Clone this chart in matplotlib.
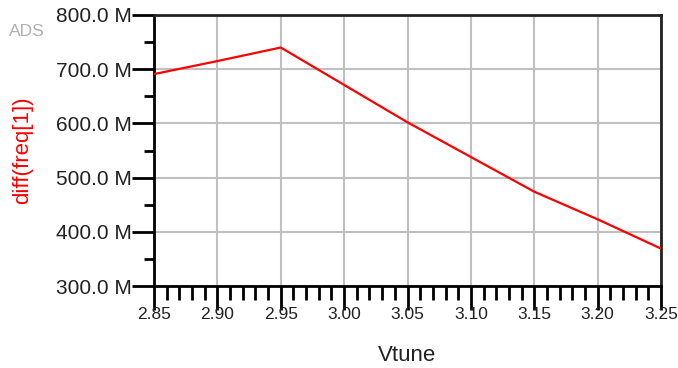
"""ADS style plot: diff(freq[1]) vs Vtune"""
import matplotlib
matplotlib.use("Agg")
import matplotlib.pyplot as plt
from matplotlib.ticker import MultipleLocator, FuncFormatter

# data
vtune = [2.85, 2.90, 2.95, 3.00, 3.05, 3.10, 3.15, 3.20, 3.25]
diff_freq = [691, 715, 740, 671, 602, 538, 474, 423, 369]  # MHz

plt.rcParams['font.family'] = ['Liberation Sans', 'DejaVu Sans']

fig = plt.figure(figsize=(6.78, 3.68), dpi=100)
ax = fig.add_axes([154 / 678, 1 - 286 / 368, (661 - 154) / 678, (286 - 15) / 368])

ax.plot(vtune, [v * 1e6 for v in diff_freq], color='#ff0000', lw=1.6, zorder=3)

ax.set_xlim(2.85, 3.25)
ax.set_ylim(300e6, 800e6)
ax.xaxis.set_major_locator(MultipleLocator(0.05))
ax.xaxis.set_minor_locator(MultipleLocator(0.01))
ax.yaxis.set_major_locator(MultipleLocator(100e6))
ax.yaxis.set_minor_locator(MultipleLocator(50e6))
ax.xaxis.set_major_formatter(FuncFormatter(lambda v, p: f"{v:.2f}"))
ax.yaxis.set_major_formatter(FuncFormatter(lambda v, p: f"{v / 1e6:.1f} M"))

ax.grid(which='major', color='#c0c0c0', lw=1.5, zorder=1)
ax.tick_params(axis='x', which='major', direction='out', length=17, width=2, labelsize=12.5, pad=-2, colors='black')
ax.tick_params(axis='x', which='minor', direction='out', length=10, width=2)
ax.tick_params(axis='y', which='major', direction='out', length=16, width=2, labelsize=15, pad=0, colors='black')
ax.tick_params(axis='y', which='minor', direction='out', length=7, width=2)
ax.tick_params(labelcolor='#222222')

for side in ['left', 'bottom']:
    ax.spines[side].set_linewidth(2)
    ax.spines[side].set_color('black')
for side in ['top', 'right']:
    ax.spines[side].set_linewidth(2)
    ax.spines[side].set_color('#222222')

ax.set_xlabel("Vtune", fontsize=16, color='#222222', labelpad=17)
fig.text(23 / 678, 1 - 150 / 368, "diff(freq[1])", rotation=90, color='#ff0000',
         fontsize=16, ha='center', va='center')
fig.text(9 / 678, 1 - 31 / 368, "ADS", color='#b0b0b0', fontsize=12.5, ha='left', va='center')

fig.savefig('out.png', dpi=100)
